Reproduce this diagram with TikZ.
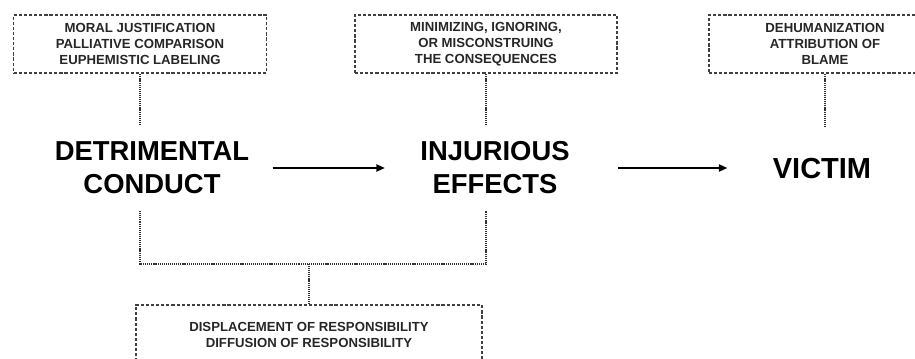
\documentclass[tikz,border=0pt]{standalone}
\usepackage{fontspec}
\setmainfont{Liberation Sans}
\usetikzlibrary{arrows.meta}

\begin{document}
\begin{tikzpicture}[x=0.02cm,y=-0.02cm,
		mech/.style={draw=black!75,line width=0.8pt,dash pattern=on 1.8pt off 1.1pt,align=center,
			font=\fontsize{7.5}{9.2}\selectfont\bfseries,text=black!85,inner sep=0pt},
		stage/.style={align=center,font=\fontsize{15.6}{18.8}\selectfont\bfseries,inner sep=0pt,minimum height=1.7cm},
		link/.style={black!80,line width=1pt,dash pattern=on 0.6pt off 0.5pt},
		flow/.style={line width=1.3pt,-{Triangle[length=5pt,width=4pt]}}]
		\useasboundingbox (0,0) rectangle (915,358);
		\clip (0,0) rectangle (915,358);

		% Main stages
		\node[stage] (dc) at (152,168) {DETRIMENTAL\\CONDUCT};
		\node[stage] (ie) at (495,168) {INJURIOUS\\EFFECTS};
		\node[stage,font=\fontsize{16.5}{20}\selectfont\bfseries] (vic) at (822,169) {VICTIM};

		% Mechanisms
		\node[mech,minimum width=5.06cm,minimum height=1.16cm] (j1) at (140,44) {MORAL JUSTIFICATION\\PALLIATIVE COMPARISON\\EUPHEMISTIC LABELING};
		\node[mech,minimum width=5.24cm,minimum height=1.16cm] (j2) at (486,44) {MINIMIZING, IGNORING,\\OR MISCONSTRUING\\THE CONSEQUENCES};
		\node[mech,minimum width=4.64cm,minimum height=1.16cm] (j3) at (825,44) {DEHUMANIZATION\\ATTRIBUTION OF\\BLAME};
		\node[mech,minimum width=6.92cm,minimum height=1.2cm] (j4) at (309,335) {DISPLACEMENT OF RESPONSIBILITY\\DIFFUSION OF RESPONSIBILITY};

		% Links
		\draw[link] (j1.south) -- (j1.south |- dc.north);
		\draw[link] (j2.south) -- (j2.south |- ie.north);
		\draw[link] (j3.south) -- (j3.south |- vic.north);
		\coordinate (fork) at (309,264);
		\draw[link] (j1.south |- dc.south) |- (fork) -| (j2.south |- ie.south);
		\draw[link] (fork) -- (j4.north);

		% Arrows
		\draw[flow,shorten <=0.46cm,shorten >=0.7cm] (dc.east) -- (ie.west);
		\draw[flow,shorten <=0.96cm,shorten >=0.9cm] (ie.east) -- (ie.east -| vic.west);
	\end{tikzpicture}
\end{document}
